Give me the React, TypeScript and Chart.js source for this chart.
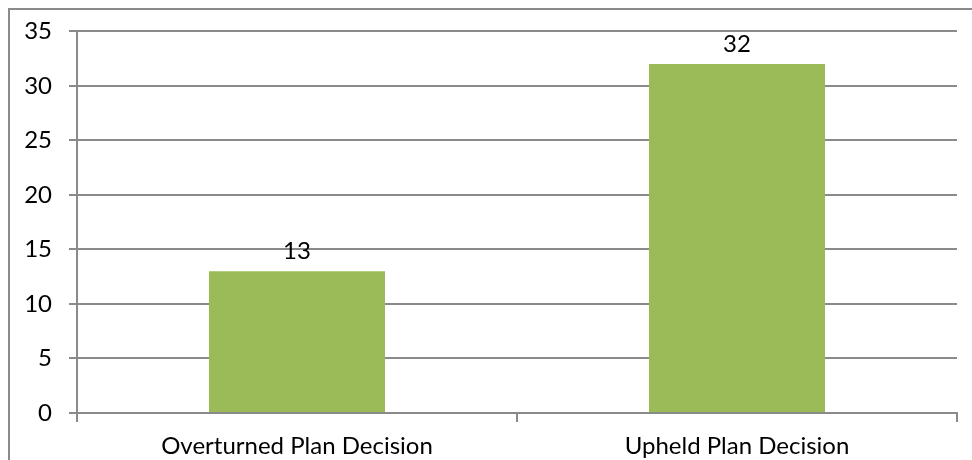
import { useEffect, useRef } from "react";
import { Chart, registerables } from "chart.js";

Chart.register(...registerables);

const categories = ["Overturned Plan Decision", "Upheld Plan Decision"];
const decisionCounts = [13, 32];
const yMin = 0;
const yMax = 35;
const yStep = 5;

const FONT_FAMILY = "Lato, 'Open Sans', sans-serif";
const FONT_SIZE = 24;
const GRID_GREY = "#8a8a8a";
const BAR_GREEN = "#9bbb59";

// Frame around the whole figure plus white backdrop.
const framePlugin = {
  id: "frame",
  beforeDraw(chart: Chart) {
    const { ctx, width, height } = chart;
    ctx.save();
    ctx.fillStyle = "#ffffff";
    ctx.fillRect(0, 0, width, height);
    ctx.strokeStyle = GRID_GREY;
    ctx.lineWidth = 2;
    ctx.strokeRect(9, 9, width + 10, height + 10);
    ctx.restore();
  },
};

// Value labels drawn above each bar.
const valueLabelPlugin = {
  id: "valueLabels",
  afterDatasetsDraw(chart: Chart) {
    const { ctx } = chart;
    const meta = chart.getDatasetMeta(0);
    const data = chart.data.datasets[0].data as number[];
    ctx.save();
    ctx.fillStyle = "#000000";
    ctx.font = `${FONT_SIZE}px ${FONT_FAMILY}`;
    ctx.textAlign = "center";
    ctx.textBaseline = "alphabetic";
    meta.data.forEach((bar: any, i: number) => {
      ctx.fillText(String(data[i]), bar.x, bar.y - 12);
    });
    ctx.restore();
  },
};

export default function App() {
  const canvasRef = useRef<HTMLCanvasElement>(null);

  useEffect(() => {
    document.body.style.margin = "0";
    const canvas = canvasRef.current;
    if (!canvas) return;
    const chart = new Chart(canvas, {
      type: "bar",
      data: {
        labels: categories,
        datasets: [
          {
            data: decisionCounts,
            backgroundColor: BAR_GREEN,
            borderWidth: 0,
            categoryPercentage: 1,
            barPercentage: 0.4,
          },
        ],
      },
      options: {
        responsive: false,
        animation: false,
        layout: {
          autoPadding: false,
          padding: { top: 29, right: 15, bottom: 0, left: 0 },
        },
        plugins: {
          legend: { display: false },
          tooltip: { enabled: false },
        },
        scales: {
          x: {
            afterFit(scale: any) {
              scale.height = 47;
            },
            grid: {
              offset: true,
              drawOnChartArea: false,
              drawTicks: true,
              tickLength: 9,
              color: GRID_GREY,
              lineWidth: 2,
            },
            border: { display: true, color: GRID_GREY, width: 2 },
            ticks: {
              color: "#000000",
              font: { family: FONT_FAMILY, size: FONT_SIZE },
              padding: 10,
              maxRotation: 0,
            },
          },
          y: {
            min: yMin,
            max: yMax,
            afterFit(scale: any) {
              scale.width = 77;
            },
            ticks: {
              stepSize: yStep,
              color: "#000000",
              font: { family: FONT_FAMILY, size: FONT_SIZE },
              padding: 17,
            },
            grid: {
              color: GRID_GREY,
              lineWidth: 2,
              drawTicks: true,
              tickLength: 8,
            },
            border: { display: true, color: GRID_GREY, width: 2 },
          },
        },
      },
      plugins: [framePlugin, valueLabelPlugin],
    });
    return () => chart.destroy();
  }, []);

  return (
    <div style={{ width: 972, height: 460 }}>
      <canvas ref={canvasRef} width={972} height={460} />
    </div>
  );
}
